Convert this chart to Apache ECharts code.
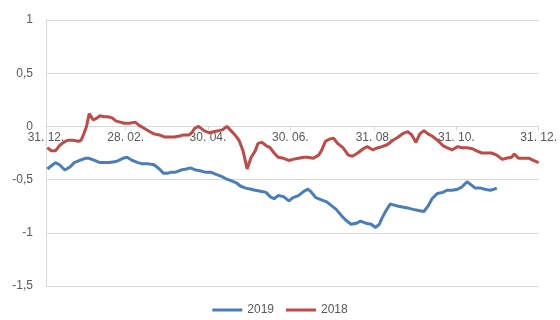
<!DOCTYPE html>
<html>
<head>
<meta charset="utf-8">
<script src="https://cdn.jsdelivr.net/npm/echarts@6/dist/echarts.min.js"></script>
<style>html,body{margin:0;padding:0;background:#fff}#c{width:560px;height:320px}</style>
</head>
<body>
<div id="c"></div>
<script>
// Tick positions (day of year) and labels
var tickDays = [0, 59, 120, 181, 243, 304, 365];
var tickLabels = ['31. 12.', '28. 02.', '30. 04.', '30. 06.', '31. 08.', '31. 10.', '31. 12.'];

// 2018 series (red)
var days2018 = [1,4,7,10,13,16,20,24,26,28,30,32,35,38,40,43,46,49,52,55,58,62,66,69,73,77,80,84,88,91,95,99,102,106,108,110,113,117,121,124,128,131,134,137,140,143,146,149,152,155,157,160,163,166,169,172,176,180,183,187,191,194,198,202,204,207,210,213,216,220,224,227,231,235,238,242,246,249,253,257,261,264,268,271,274,277,280,283,286,290,294,297,301,305,308,312,316,319,323,327,330,334,338,341,345,347,350,354,358,361,365];
var values2018 = [-0.20,-0.23,-0.23,-0.18,-0.15,-0.13,-0.13,-0.14,-0.13,-0.07,0,0.12,0.06,0.08,0.10,0.09,0.09,0.08,0.05,0.04,0.03,0.03,0.04,0.01,-0.02,-0.05,-0.07,-0.08,-0.10,-0.10,-0.10,-0.09,-0.08,-0.08,-0.06,-0.02,0,-0.04,-0.06,-0.05,-0.04,-0.03,0,-0.04,-0.08,-0.13,-0.23,-0.40,-0.29,-0.23,-0.16,-0.15,-0.18,-0.20,-0.25,-0.29,-0.30,-0.32,-0.31,-0.30,-0.29,-0.29,-0.30,-0.27,-0.23,-0.14,-0.12,-0.11,-0.16,-0.20,-0.27,-0.28,-0.25,-0.21,-0.19,-0.22,-0.20,-0.19,-0.17,-0.13,-0.10,-0.07,-0.05,-0.08,-0.15,-0.07,-0.04,-0.07,-0.09,-0.13,-0.18,-0.20,-0.22,-0.19,-0.20,-0.20,-0.21,-0.23,-0.25,-0.25,-0.25,-0.27,-0.31,-0.30,-0.29,-0.26,-0.30,-0.30,-0.30,-0.32,-0.34];

// 2019 series (blue)
var days2019 = [1,4,7,10,14,18,21,25,29,32,36,40,43,47,52,57,60,64,68,71,75,80,84,87,90,93,96,100,104,107,111,115,118,122,126,130,133,137,141,144,148,152,155,159,163,166,169,172,176,180,183,187,191,194,196,200,204,208,211,215,219,222,226,230,233,237,241,244,247,249,252,255,258,261,265,269,272,276,280,283,286,290,294,297,301,305,308,312,315,318,322,325,329,332,334];
var values2019 = [-0.40,-0.37,-0.34,-0.36,-0.41,-0.38,-0.34,-0.32,-0.30,-0.30,-0.32,-0.34,-0.34,-0.34,-0.33,-0.30,-0.29,-0.32,-0.34,-0.35,-0.35,-0.36,-0.40,-0.44,-0.44,-0.43,-0.43,-0.41,-0.40,-0.39,-0.41,-0.42,-0.43,-0.43,-0.45,-0.47,-0.49,-0.51,-0.53,-0.56,-0.58,-0.59,-0.60,-0.61,-0.62,-0.66,-0.68,-0.65,-0.66,-0.70,-0.67,-0.65,-0.61,-0.59,-0.61,-0.67,-0.69,-0.71,-0.74,-0.78,-0.84,-0.88,-0.92,-0.91,-0.89,-0.91,-0.92,-0.95,-0.92,-0.86,-0.79,-0.73,-0.74,-0.75,-0.76,-0.77,-0.78,-0.79,-0.80,-0.75,-0.68,-0.63,-0.62,-0.60,-0.60,-0.59,-0.57,-0.52,-0.55,-0.58,-0.58,-0.59,-0.60,-0.59,-0.58];

var yMin = -1.5, yMax = 1, yStep = 0.5;

function pairs(d, v) { return d.map(function (x, i) { return [x, v[i]]; }); }

var FONT = 'Liberation Sans, Arial, sans-serif';
var chart = echarts.init(document.getElementById('c'), null, { renderer: 'canvas' });
chart.setOption({
  animation: false,
  backgroundColor: '#ffffff',
  grid: { left: 46, right: 17, top: 20, bottom: 34, containLabel: false },
  legend: {
    data: ['2019', '2018'],
    top: 304,
    left: 'center',
    padding: [0, 5],
    icon: 'rect',
    itemWidth: 30,
    itemHeight: 3,
    itemGap: 12,
    textStyle: { color: '#595959', fontSize: 12, fontFamily: FONT }
  },
  xAxis: {
    type: 'value',
    min: 0,
    max: 365,
    axisLine: { onZero: false, lineStyle: { color: '#d9d9d9', width: 1 } },
    axisTick: { show: true, customValues: tickDays, length: 4, lineStyle: { color: '#d9d9d9' } },
    axisLabel: {
      customValues: tickDays,
      color: '#595959',
      fontSize: 12,
      margin: 5,
      fontFamily: FONT,
      formatter: function (v) {
        var i = tickDays.indexOf(Math.round(v));
        return i >= 0 ? tickLabels[i] : '';
      }
    },
    splitLine: { show: false }
  },
  yAxis: {
    type: 'value',
    min: yMin,
    max: yMax,
    interval: yStep,
    axisLine: { show: true, lineStyle: { color: '#d9d9d9' } },
    axisTick: { show: false },
    axisLabel: {
      color: '#595959',
      fontSize: 12,
      margin: 13,
      fontFamily: FONT,
      formatter: function (v) { return String(v).replace('.', ','); }
    },
    splitLine: { lineStyle: { color: '#d9d9d9', width: 1 } }
  },
  series: [
    {
      name: '2019', type: 'line', data: pairs(days2019, values2019),
      showSymbol: false, symbol: 'none',
      lineStyle: { color: '#4a7ebb', width: 3 }, itemStyle: { color: '#4a7ebb' }
    },
    {
      name: '2018', type: 'line', data: pairs(days2018, values2018),
      showSymbol: false, symbol: 'none',
      lineStyle: { color: '#be4b48', width: 3 }, itemStyle: { color: '#be4b48' }
    }
  ]
});
// Move the date axis up to the zero line using the library's own y scale
var yBottom = chart.convertToPixel({ yAxisIndex: 0 }, yMin);
var yZero = chart.convertToPixel({ yAxisIndex: 0 }, 0);
chart.setOption({ xAxis: { offset: -(yBottom - yZero) } });
</script>
</body>
</html>
